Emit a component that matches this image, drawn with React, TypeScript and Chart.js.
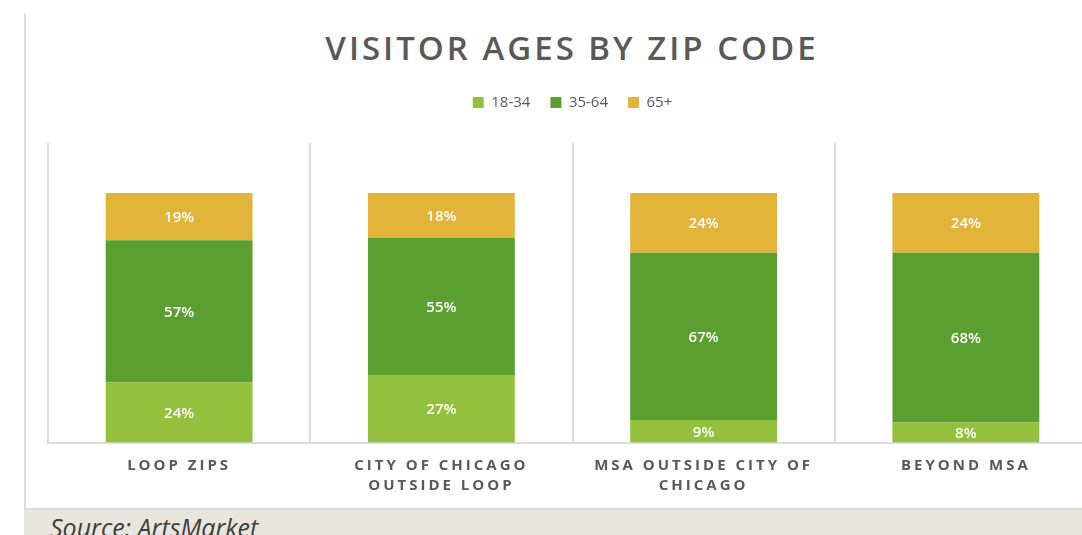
import React, { useEffect, useRef } from "react";
import { Chart, registerables } from "chart.js";

Chart.register(...registerables);

const categories: (string | string[])[] = [
  "LOOP ZIPS",
  ["CITY OF CHICAGO", "OUTSIDE LOOP"],
  ["MSA OUTSIDE CITY OF", "CHICAGO"],
  "BEYOND MSA",
];
const seriesNames = ["18-34", "35-64", "65+"];
const age18to34 = [24, 27, 9, 8];
const age35to64 = [57, 55, 67, 68];
const age65plus = [19, 18, 24, 24];
const seriesColors = ["#94c13d", "#5c9f31", "#e2b439"];

const TEXT = "#595959";

const legendSpacer = {
  id: "legendSpacer",
  beforeLayout(chart: any) {
    const lg = chart.legend;
    if (lg && !lg._spacerPatched) {
      lg._spacerPatched = true;
      const origFit = lg.fit;
      lg.fit = function () {
        origFit.call(this);
        this.height += 23;
      };
    }
  },
};

const dataLabelPlugin = {
  id: "dataLabels",
  afterDatasetsDraw(chart: any) {
    const ctx = chart.ctx;
    ctx.save();
    ctx.fillStyle = "#ffffff";
    ctx.font = "600 15px 'Open Sans'";
    ctx.textAlign = "center";
    ctx.textBaseline = "middle";
    chart.data.datasets.forEach((ds: any, di: number) => {
      const meta = chart.getDatasetMeta(di);
      meta.data.forEach((el: any, i: number) => {
        const y = (el.y + el.base) / 2;
        ctx.fillText(ds.data[i] + "%", el.x, y + 1);
      });
    });
    ctx.restore();
    // letter spacing for the category labels drawn after datasets
    (ctx as any).letterSpacing = "3px";
  },
  afterDraw(chart: any) {
    (chart.ctx as any).letterSpacing = "0px";
  },
};

export default function App() {
  const ref = useRef<HTMLCanvasElement>(null);
  useEffect(() => {
    document.body.style.margin = "0";
    const chart = new Chart(ref.current!, {
      type: "bar",
      data: {
        labels: categories as any,
        datasets: [
          { label: seriesNames[0], data: age18to34, backgroundColor: seriesColors[0] },
          { label: seriesNames[1], data: age35to64, backgroundColor: seriesColors[1] },
          { label: seriesNames[2], data: age65plus, backgroundColor: seriesColors[2] },
        ],
      },
      options: {
        animation: false,
        responsive: false,
        maintainAspectRatio: false,
        datasets: { bar: { barPercentage: 0.56, categoryPercentage: 1 } },
        layout: { padding: { top: 75, left: 22, right: 21, bottom: 0 } },
        plugins: {
          tooltip: { enabled: false },
          title: { display: false },
          legend: {
            position: "top",
            labels: {
              boxWidth: 11,
              boxHeight: 11,
              padding: 20,
              color: TEXT,
              font: { family: "'Open Sans'", size: 15 },
            },
          },
        },
        scales: {
          x: {
            stacked: true,
            offset: true,
            grid: {
              display: true,
              offset: true,
              color: "#dcdcdc",
              lineWidth: 2,
              drawTicks: false,
            },
            border: { display: true, color: "#dcdcdc", width: 2 },
            ticks: {
              z: 1,
              padding: 13,
              color: TEXT,
              maxRotation: 0,
              autoSkip: false,
              font: { family: "'Open Sans'", size: 15, weight: "bold", lineHeight: 1.35 },
            },
          },
          y: {
            stacked: true,
            min: 0,
            max: 120,
            display: false,
          },
        },
      },
      plugins: [legendSpacer, dataLabelPlugin],
    });
    return () => chart.destroy();
  }, []);

  return (
    <div
      style={{
        position: "relative",
        width: 1082,
        height: 535,
        overflow: "hidden",
        background: "#ffffff",
        fontFamily: "'Open Sans', sans-serif",
      }}
    >
      <div
        style={{
          position: "absolute",
          left: 24,
          top: 13,
          width: 2,
          height: 497,
          background: "#dcdcdc",
        }}
      />
      <div
        style={{
          position: "absolute",
          left: 24,
          top: 508,
          width: 1058,
          height: 27,
          background: "#e8e6dd",
          borderTop: "2px solid #dcdcdc",
          boxSizing: "border-box",
        }}
      >
        <div
          style={{
            position: "absolute",
            left: 26,
            top: 2,
            fontSize: 25,
            fontStyle: "italic",
            color: "#404040",
            lineHeight: "30px",
            whiteSpace: "nowrap",
          }}
        >
          Source: ArtsMarket
        </div>
      </div>
      <div
        style={{
          position: "absolute",
          left: 26,
          top: 25,
          width: 1092,
          textAlign: "center",
          fontSize: 33,
          fontWeight: 600,
          letterSpacing: "3px",
          color: TEXT,
          lineHeight: "46px",
          whiteSpace: "nowrap",
        }}
      >
        VISITOR AGES BY ZIP CODE
      </div>
      <canvas
        ref={ref}
        width={1092}
        height={509}
        style={{ position: "absolute", left: 26, top: 0, width: 1092, height: 509 }}
      />
    </div>
  );
}
